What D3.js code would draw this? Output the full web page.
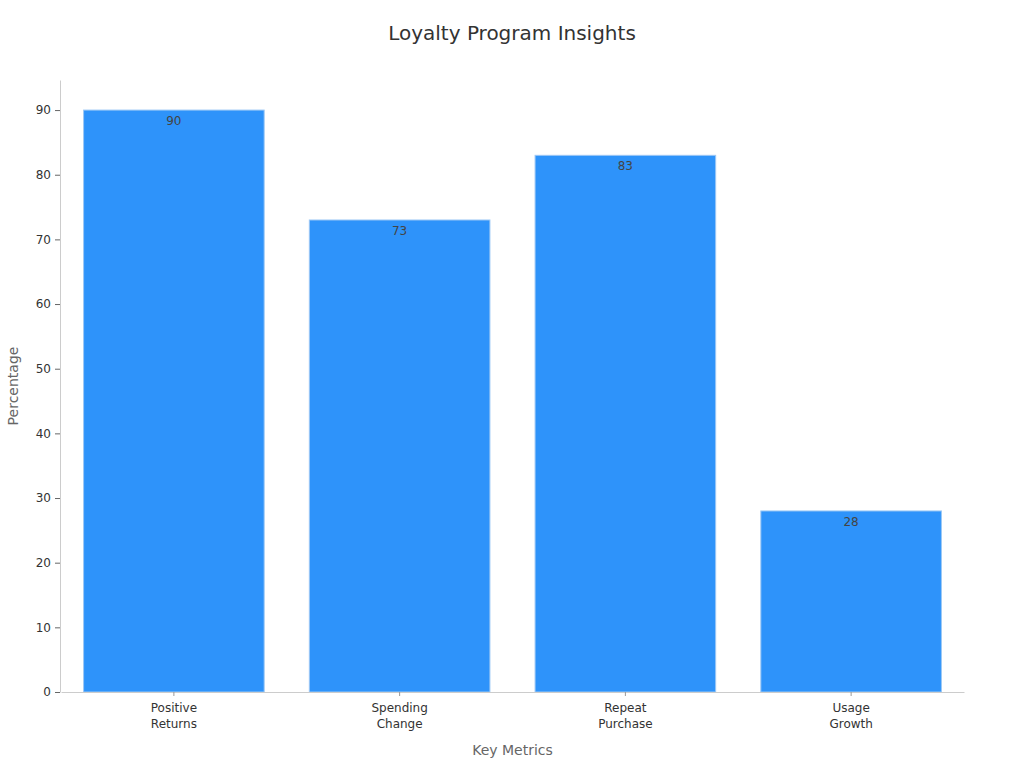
<!DOCTYPE html>
<html><head><meta charset="utf-8">
<script src="https://cdn.jsdelivr.net/npm/d3@7"></script>
<style>body{margin:0;background:#fff;} svg{display:block;font-family:"DejaVu Sans",sans-serif;}</style>
</head><body>
<svg id="c" width="1024" height="768"></svg>
<script>
const categories = [["Positive","Returns"],["Spending","Change"],["Repeat","Purchase"],["Usage","Growth"]];
const values = [90, 73, 83, 28];
const yTicks = [0,10,20,30,40,50,60,70,80,90];
const title = "Loyalty Program Insights";
const xTitle = "Key Metrics";
const yTitle = "Percentage";

const svg = d3.select("#c");
const m = {l:61, r:964, t:80, b:692};
const keys = categories.map(c => c.join(" "));
const x = d3.scaleBand().domain(keys).range([m.l, m.r]).paddingInner(0.2).paddingOuter(0.1);
const y = d3.scaleLinear().domain([0, 94.65]).range([m.b, m.t]);

svg.append("text").attr("x",512).attr("y",40).attr("text-anchor","middle")
  .attr("font-size",20).attr("fill","#333").text(title);

svg.selectAll("rect.bar").data(values).join("rect").attr("class","bar")
  .attr("x",(d,i)=>x(keys[i])).attr("width",x.bandwidth())
  .attr("y",d=>y(d)).attr("height",d=>y(0)-y(d))
  .attr("fill","#2E93FA").attr("stroke","#9cc8f5").attr("stroke-width",1);

svg.selectAll("text.val").data(values).join("text").attr("class","val")
  .attr("x",(d,i)=>x(keys[i])+x.bandwidth()/2).attr("y",d=>y(d)+15)
  .attr("text-anchor","middle").attr("font-size",12).attr("fill","#444").text(d=>d);

const ya = svg.append("g").attr("transform",`translate(${m.l-1},0)`)
  .call(d3.axisLeft(y).tickValues(yTicks).tickSize(5).tickPadding(4).tickSizeOuter(0));
ya.select(".domain").attr("stroke","#ccc");
ya.selectAll(".tick line").attr("stroke","#666");
ya.selectAll(".tick text").attr("font-size",12).attr("fill","#333").attr("font-family","DejaVu Sans");

const xa = svg.append("g").attr("transform",`translate(0,${m.b})`)
  .call(d3.axisBottom(x).tickSize(4).tickSizeOuter(0).tickFormat(""));
xa.select(".domain").attr("stroke","#ccc");
xa.selectAll(".tick line").attr("stroke","#999");
xa.selectAll(".tick").each(function(d,i){
  const t = d3.select(this).append("text").attr("fill","#333").attr("font-size",12)
    .attr("text-anchor","middle").attr("font-family","DejaVu Sans");
  categories[i].forEach((s,j)=>t.append("tspan").attr("x",0).attr("y",20+j*16).text(s));
});

svg.append("text").attr("x",(m.l+m.r)/2).attr("y",755).attr("text-anchor","middle")
  .attr("font-size",14).attr("fill","#666").text(xTitle);
svg.append("text").attr("transform",`translate(18,${(m.t+m.b)/2}) rotate(-90)`)
  .attr("text-anchor","middle").attr("font-size",14).attr("fill","#666").text(yTitle);
</script>
</body></html>
